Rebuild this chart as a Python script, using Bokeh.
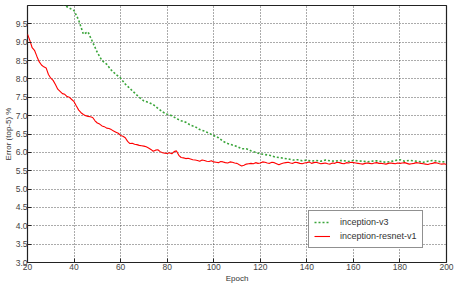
from bokeh.plotting import figure
from bokeh.models import FixedTicker, PrintfTickFormatter, Range1d, Legend, LegendItem
from bokeh.embed import file_html
from bokeh.resources import INLINE

# ---------------- data ----------------
x_ticks = [20, 40, 60, 80, 100, 120, 140, 160, 180, 200]
y_ticks = [3.0, 3.5, 4.0, 4.5, 5.0, 5.5, 6.0, 6.5, 7.0, 7.5, 8.0, 8.5, 9.0, 9.5]

resnet_epochs = list(range(20, 201))
resnet_err = [
    9.22, 9.05, 8.85, 8.78, 8.62, 8.47, 8.38, 8.33, 8.30, 8.12,
    8.02, 7.96, 7.85, 7.72, 7.66, 7.60, 7.58, 7.52, 7.50, 7.44,
    7.38, 7.26, 7.15, 7.08, 7.03, 7.00, 6.98, 6.97, 6.95, 6.86,
    6.80, 6.77, 6.72, 6.70, 6.66, 6.65, 6.62, 6.58, 6.55, 6.52,
    6.46, 6.44, 6.40, 6.30, 6.24, 6.25, 6.22, 6.21, 6.19, 6.18,
    6.17, 6.15, 6.12, 6.08, 6.03, 6.06, 6.07, 6.02, 5.99, 5.98,
    5.97, 5.99, 5.96, 6.02, 6.04, 5.92, 5.86, 5.85, 5.83, 5.84,
    5.82, 5.80, 5.79, 5.78, 5.76, 5.79, 5.78, 5.76, 5.75, 5.77,
    5.74, 5.73, 5.72, 5.75, 5.74, 5.72, 5.71, 5.74, 5.73, 5.71,
    5.70, 5.66, 5.63, 5.65, 5.68, 5.69, 5.70, 5.69, 5.72, 5.70,
    5.71, 5.74, 5.73, 5.71, 5.70, 5.73, 5.72, 5.69, 5.66, 5.69,
    5.71, 5.72, 5.73, 5.71, 5.70, 5.73, 5.72, 5.70, 5.69, 5.71,
    5.72, 5.74, 5.70, 5.72, 5.73, 5.71, 5.69, 5.70, 5.71, 5.69,
    5.68, 5.71, 5.70, 5.73, 5.72, 5.70, 5.69, 5.72, 5.71, 5.73,
    5.72, 5.71, 5.70, 5.69, 5.68, 5.70, 5.71, 5.70, 5.69, 5.71,
    5.72, 5.70, 5.70, 5.69, 5.68, 5.70, 5.71, 5.70, 5.69, 5.71,
    5.70, 5.71, 5.72, 5.70, 5.68, 5.69, 5.70, 5.72, 5.71, 5.70,
    5.69, 5.68, 5.67, 5.69, 5.70, 5.72, 5.71, 5.69, 5.68, 5.69,
    5.67,
]

v3_epochs = list(range(34, 201, 2))
v3_err = [
    10.12, 10.00, 9.93, 9.86, 9.60, 9.22, 9.28, 9.00, 8.72, 8.50,
    8.40, 8.24, 8.12, 8.02, 7.86, 7.74, 7.62, 7.50, 7.40, 7.36,
    7.30, 7.20, 7.10, 7.04, 7.00, 6.92, 6.86, 6.82, 6.74, 6.70,
    6.62, 6.58, 6.52, 6.46, 6.40, 6.30, 6.24, 6.20, 6.16, 6.10,
    6.10, 6.04, 6.00, 5.96, 5.94, 5.92, 5.88, 5.86, 5.84, 5.82,
    5.79, 5.80, 5.77, 5.79, 5.76, 5.78, 5.76, 5.79, 5.77, 5.76,
    5.78, 5.77, 5.75, 5.78, 5.77, 5.76, 5.74, 5.76, 5.77, 5.75,
    5.73, 5.75, 5.78, 5.80, 5.76, 5.78, 5.77, 5.75, 5.73, 5.76,
    5.78, 5.76, 5.74, 5.75,
]

# ---------------- figure ----------------
p = figure(width=456, height=287, output_backend="svg", toolbar_location=None,
           x_range=Range1d(20, 200), y_range=Range1d(3.0, 10.0),
           min_border_left=0, min_border_right=10, min_border_top=5, min_border_bottom=25)

p.outline_line_color = "#222222"
p.outline_line_width = 1.2
p.background_fill_color = "white"
p.border_fill_color = "white"

font = "Liberation Sans"
for ax in (p.xaxis[0], p.yaxis[0]):
    ax.axis_line_color = None
    ax.major_tick_in = 4
    ax.major_tick_out = 0
    ax.minor_tick_line_color = None
    ax.major_tick_line_color = "#222222"
    ax.major_label_text_font = font
    ax.major_label_text_font_size = "8.5px"
    ax.major_label_text_color = "#444444"
    ax.axis_label_text_font = font
    ax.axis_label_text_font_size = "8px"
    ax.axis_label_text_font_style = "normal"
    ax.axis_label_text_color = "#333333"

p.xaxis[0].ticker = FixedTicker(ticks=x_ticks)
p.yaxis[0].ticker = FixedTicker(ticks=y_ticks)
p.yaxis[0].formatter = PrintfTickFormatter(format="%.1f")
p.xaxis[0].axis_label = "Epoch"
p.yaxis[0].axis_label = "Error (top-5) %"
p.xaxis[0].major_label_standoff = 1
p.yaxis[0].major_label_standoff = 0
p.xaxis[0].axis_label_standoff = 1
p.yaxis[0].axis_label_standoff = 0

for g in (p.xgrid[0], p.ygrid[0]):
    g.grid_line_color = "#444444"
    g.grid_line_dash = "1 2"
    g.grid_line_width = 0.9
p.xgrid[0].ticker = FixedTicker(ticks=x_ticks)
p.ygrid[0].ticker = FixedTicker(ticks=y_ticks)

r_v3 = p.line(v3_epochs, v3_err, line_color="#3aa53a", line_width=1.6, line_dash="2 2")
r_res = p.line(resnet_epochs, resnet_err, line_color="#ff0000", line_width=1.1)

legend = Legend(items=[LegendItem(label="inception-v3", renderers=[r_v3]),
                       LegendItem(label="inception-resnet-v1", renderers=[r_res])],
                location=(281, 14))
legend.border_line_color = "#222222"
legend.border_line_width = 1.2
legend.background_fill_alpha = 1
legend.label_text_font = font
legend.label_text_font_size = "9px"
legend.label_text_color = "#333333"
legend.glyph_width = 16
legend.glyph_height = 12
legend.label_height = 12
legend.spacing = 2
legend.padding = 5
legend.margin = 0
legend.label_standoff = 10
p.add_layout(legend, "center")

open("out.html", "w").write(file_html(p, INLINE))
